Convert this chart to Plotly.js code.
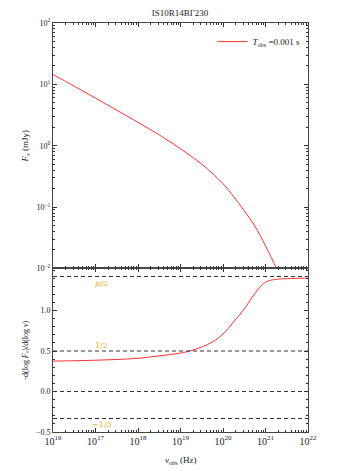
<!DOCTYPE html>
<html>
<head>
<meta charset="utf-8">
<script src="https://cdn.plot.ly/plotly-3.0.1.min.js"></script>
<style>html,body{margin:0;padding:0;background:#fff;}#chart{width:353px;height:471px;}</style>
</head>
<body>
<div id="chart"></div>
<script>
// Top panel: flux density F_nu (mJy) vs observed frequency (Hz)
const nuFlux = [1e16, 3.16e16, 1e17, 3.16e17, 1e18, 3.16e18, 1e19, 3.16e19, 1e20, 1.78e20, 3.16e20, 5.62e20, 1e21, 1.82e21, 2.5e21];
const flux   = [14.5, 9.33, 5.97, 3.80, 2.40, 1.50, 0.89, 0.50, 0.24, 0.148, 0.087, 0.049, 0.0234, 0.0100, 0.0063];

// Bottom panel: spectral slope -d(log F)/d(log nu)
const nuSlope = [1e16, 3.16e16, 1e17, 3.16e17, 1e18, 3.16e18, 1e19, 1.78e19, 3.16e19, 5.62e19, 1e20, 1.78e20, 3.16e20, 5.62e20, 1e21, 1.78e21, 3.16e21, 1e22];
const slope   = [0.376, 0.380, 0.386, 0.395, 0.41, 0.44, 0.475, 0.505, 0.55, 0.61, 0.71, 0.86, 1.02, 1.21, 1.35, 1.385, 1.393, 1.40];

// Reference slopes (dashed lines) and their labels
const refValues = [1.42, 0.5, 0.0, -1/3];
const refLabels = ["<i>p</i>/2", "1/2", "", "\u22121/3"];
const refLabelY = [1.33, 0.565, null, -0.41];

// Tick labels
const fluxTickVals = [0.01, 0.1, 1, 10, 100];
const fluxTickText = ["10<sup>\u22122</sup>", "10<sup>\u22121</sup>", "10<sup>0</sup>", "10<sup>1</sup>", "10<sup>2</sup>"];
const slopeTickVals = [-0.5, 0, 0.5, 1.0];
const slopeTickText = ["\u22120.5", "0.0", "0.5", "1.0"];

const legendName = "<i>T</i><sub>obs</sub> =0.001 s";
const titleText = "IS10R14B\u0393230";

const serif = "Liberation Serif, DejaVu Serif, serif";
const axisCommon = {
  showline: true, linecolor: "#444", linewidth: 1, mirror: "allticks",
  ticks: "inside", ticklen: 4, tickcolor: "#333", showgrid: false, zeroline: false,
  tickfont: {family: serif, size: 8, color: "#222"}
};

const traces = [
  {x: nuFlux, y: flux, xaxis: "x", yaxis: "y", mode: "lines", line: {color: "#ff3333", width: 1, shape: "spline"}, name: legendName, showlegend: true},
  {x: nuSlope, y: slope, xaxis: "x2", yaxis: "y2", mode: "lines", line: {color: "#ff3333", width: 1, shape: "spline"}, showlegend: false, hoverinfo: "skip"}
];

const shapes = refValues.map(v => ({
  type: "line", xref: "x2 domain", yref: "y2", x0: 0, x1: 1, y0: v, y1: v,
  line: {color: "#333", width: 1, dash: "4px,3px"}
}));

const annotations = [];
refLabels.forEach((t, i) => {
  if (t) annotations.push({x: 17.15, y: refLabelY[i], xref: "x2", yref: "y2", text: t, showarrow: false,
    font: {family: "DejaVu Serif, serif", size: 8, color: "#f5a623"}});
});
annotations.push({x: 0.5, y: -0.13, xref: "x2 domain", yref: "y2 domain", yanchor: "top",
  text: "<i>\u03bd</i><sub>obs</sub> (Hz)", showarrow: false, font: {family: serif, size: 9, color: "#222"}});

const layout = {
  width: 353, height: 471,
  margin: {l: 53, r: 45, t: 23, b: 39},
  paper_bgcolor: "#fff", plot_bgcolor: "#fff",
  title: {text: titleText, font: {family: serif, size: 9, color: "#222"}, x: 0.51, xanchor: "center", y: 0.972, yanchor: "middle"},
  showlegend: true,
  legend: {x: 0.99, y: 0.99, xanchor: "right", yanchor: "top", bgcolor: "rgba(0,0,0,0)",
    font: {family: serif, size: 9, color: "#222"}, itemwidth: 30},
  xaxis: Object.assign({}, axisCommon, {type: "log", range: [16, 22], domain: [0, 1], anchor: "y", showticklabels: false, dtick: 1,
    minor: {ticks: "inside", ticklen: 2, tickcolor: "#333", dtick: "D1"}}),
  yaxis: Object.assign({}, axisCommon, {type: "log", range: [-2, 2], domain: [0.4, 1], anchor: "x",
    tickvals: fluxTickVals, ticktext: fluxTickText,
    minor: {ticks: "inside", ticklen: 2, tickcolor: "#333", dtick: "D1"},
    title: {text: "<i>F</i><sub><i>\u03bd</i></sub> (mJy)", font: {family: serif, size: 9, color: "#222"}, standoff: 6}}),
  xaxis2: Object.assign({}, axisCommon, {type: "log", range: [16, 22], domain: [0, 1], anchor: "y2", dtick: 1, exponentformat: "power",
    minor: {ticks: "inside", ticklen: 2, tickcolor: "#333", dtick: "D1"}}),
  yaxis2: Object.assign({}, axisCommon, {range: [-0.5, 1.52], domain: [0, 0.4], anchor: "x2", tickvals: slopeTickVals,
    ticktext: slopeTickText,
    minor: {ticks: "inside", ticklen: 2, tickcolor: "#333", dtick: 0.1},
    title: {text: "-d(log <i>F</i><sub><i>\u03bd</i></sub>)/d(log <i>\u03bd</i>)", font: {family: serif, size: 8, color: "#222"}, standoff: 6}}),
  shapes: shapes,
  annotations: annotations
};

Plotly.newPlot("chart", traces, layout, {displayModeBar: false, staticPlot: true});
</script>
</body>
</html>
